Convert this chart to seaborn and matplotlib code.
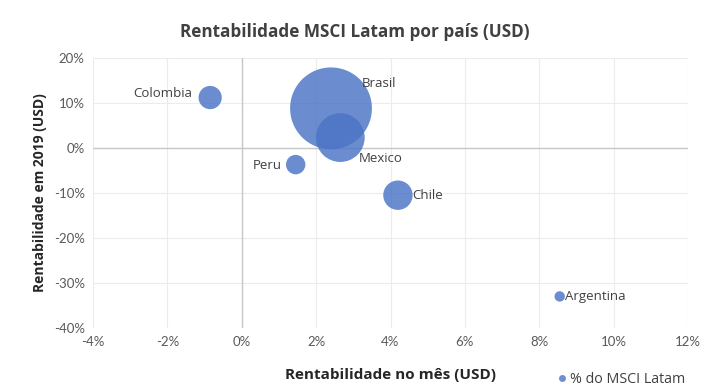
import matplotlib
matplotlib.use("Agg")
import matplotlib.pyplot as plt
from matplotlib.lines import Line2D
from matplotlib.ticker import FuncFormatter, MultipleLocator
import seaborn as sns
import pandas as pd

countries = ["Brasil", "Mexico", "Chile", "Colombia", "Peru", "Argentina"]
ret_month = [2.4, 2.65, 4.2, -0.85, 1.45, 8.55]   # % (x)
ret_2019 = [8.8, 2.3, -10.5, 11.2, -3.7, -33.0]   # % (y)
weight = [62.0, 22.0, 8.0, 5.0, 3.5, 1.0]         # % do MSCI Latam

df = pd.DataFrame({"pais": countries, "x": ret_month, "y": ret_2019, "w": weight})

sns.set_theme(style="white")
plt.rcParams["font.family"] = ["Lato", "DejaVu Sans"]
wide = ["Open Sans", "DejaVu Sans"]

fig = plt.figure(figsize=(7.1, 3.89), dpi=100)
ax = fig.add_axes([0.131, 0.157, 0.838, 0.694])

k = 56.0
sns.scatterplot(data=df, x="x", y="y", size="w",
                sizes=(k * min(weight), k * max(weight)),
                size_norm=(min(weight), max(weight)),
                color="#4a74c6", alpha=0.82, edgecolor="none",
                legend=False, ax=ax, zorder=3)

ax.set_xlim(-4, 12)
ax.set_ylim(-40, 20)
ax.xaxis.set_major_locator(MultipleLocator(2))
ax.yaxis.set_major_locator(MultipleLocator(10))
ax.xaxis.set_major_formatter(FuncFormatter(lambda v, p: f"{v:.0f}%"))
ax.yaxis.set_major_formatter(FuncFormatter(lambda v, p: f"{v:.0f}%"))
ax.grid(True, color="#ececec", linewidth=0.8)
ax.set_axisbelow(True)
for s in ax.spines.values():
    s.set_visible(False)
ax.axhline(0, color="#c8c8c8", linewidth=1.0, zorder=1)
ax.axvline(0, color="#c8c8c8", linewidth=1.0, zorder=1)
ax.tick_params(axis="both", length=0, labelsize=9.5, labelcolor="#595959", pad=6)

ax.set_xlabel("Rentabilidade no mês (USD)", fontsize=11, fontweight="bold",
              color="#262626", labelpad=14, family=wide)
ax.set_ylabel("Rentabilidade em 2019 (USD)", fontsize=10, fontweight="bold",
              color="#262626", labelpad=5, family=wide)
fig.suptitle("Rentabilidade MSCI Latam por país (USD)", x=0.5, y=0.94,
             fontsize=12.3, fontweight="bold", color="#404040", family=wide)

offsets = {
    "Brasil": (22, 18, "left"),
    "Mexico": (13, -15, "left"),
    "Chile": (10, 0, "left"),
    "Colombia": (-13, 3, "right"),
    "Peru": (-10, -1, "right"),
    "Argentina": (4, 0, "left"),
}
for c, xv, yv in zip(countries, ret_month, ret_2019):
    dx, dy, ha = offsets[c]
    ax.annotate(c, (xv, yv), xytext=(dx, dy), textcoords="offset points",
                ha=ha, va="center", fontsize=9.5, color="#404040", zorder=5,
                family=wide)

handle = Line2D([], [], marker="o", linestyle="none", markersize=5,
                markerfacecolor="#6f8fd0", markeredgecolor="none")
fig.legend([handle], ["% do MSCI Latam"], loc="center left",
           bbox_to_anchor=(0.765, 0.025), frameon=False,
           prop={"family": wide, "size": 10.3},
           handlelength=0.8, handletextpad=0.15, labelcolor="#404040")

fig.savefig("out.png", dpi=100)
